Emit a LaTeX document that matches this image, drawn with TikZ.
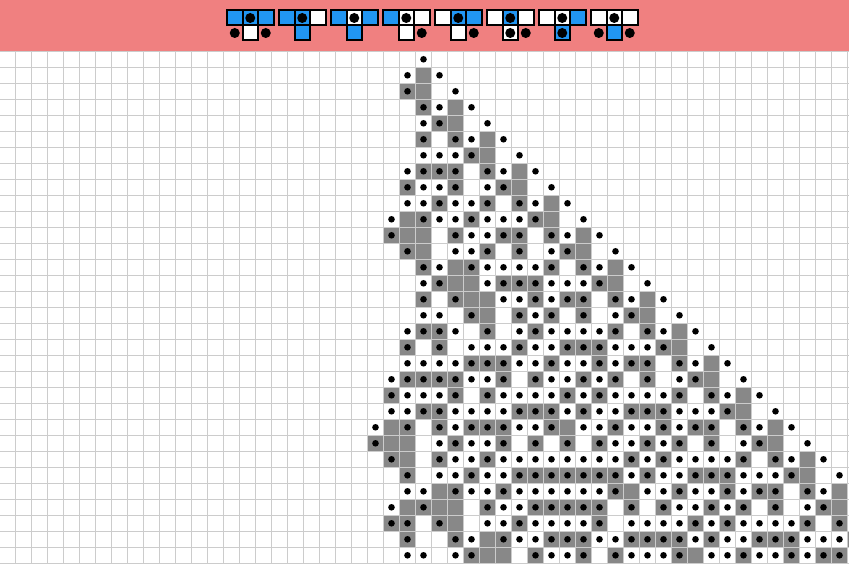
\documentclass[tikz,border=0pt]{standalone}
\usepackage{tikz}
\definecolor{bar}{RGB}{240,128,128}
\definecolor{cellgray}{RGB}{136,136,136}
\definecolor{gridc}{RGB}{204,204,204}
\definecolor{iconblue}{RGB}{33,150,243}

\newcount\rr \newcount\cc \newcount\tmp \newcount\idx
\def\esetv#1#2#3{\expandafter\edef\csname ca#1@\number#2\endcsname{#3}}
\def\getv#1#2{\csname ca#1@\number#2\endcsname}
\cc=-3
\loop
  \esetv{col}{\cc}{0}\esetv{act}{\cc}{0}\esetv{ncol}{\cc}{0}\esetv{nact}{\cc}{0}%
  \advance\cc by 1
\ifnum\cc<66 \repeat
\esetv{act}{25}{1}
\def\cellcmds{}\def\dotcmds{}
\def\newc#1{\esetv{ncol}{\cc}{#1}}
\def\dotL{\tmp=\cc \advance\tmp by -1\relax \esetv{nact}{\tmp}{1}}
\def\dotC{\esetv{nact}{\cc}{1}}
\def\dotR{\tmp=\cc \advance\tmp by 1\relax \esetv{nact}{\tmp}{1}}
\def\applyrule{%
  \ifcase\idx \newc{1}\dotL\dotR
  \or \newc{1}\dotC
  \or \newc{0}\dotC\dotR
  \or \newc{0}\dotR
  \or \newc{0}\dotR
  \or \newc{1}%
  \or \newc{1}%
  \or \newc{0}\dotL\dotR
  \fi}
\def\dorow{%
  \cc=0
  \loop
    \ifnum\getv{col}{\cc}=1 \xdef\cellcmds{\unexpanded\expandafter{\cellcmds}\noexpand\cellat{\the\cc}{\the\rr}}\fi
    \ifnum\getv{act}{\cc}=1 \xdef\dotcmds{\unexpanded\expandafter{\dotcmds}\noexpand\dotat{\the\cc}{\the\rr}}\fi
    \advance\cc by 1
  \ifnum\cc<58 \repeat
  \cc=-1
  \loop
    \esetv{ncol}{\cc}{\getv{col}{\cc}}%
    \ifnum\getv{act}{\cc}=1
      \tmp=\cc \advance\tmp by -1\relax
      \idx=\getv{col}{\tmp}\relax
      \multiply\idx by 2\relax
      \advance\idx by \getv{col}{\cc}\relax
      \multiply\idx by 2\relax
      \tmp=\cc \advance\tmp by 1\relax
      \advance\idx by \getv{col}{\tmp}\relax
      \applyrule
    \fi
    \advance\cc by 1
  \ifnum\cc<64 \repeat
  \cc=-2
  \loop
    \esetv{col}{\cc}{\getv{ncol}{\cc}}%
    \esetv{act}{\cc}{\getv{nact}{\cc}}%
    \esetv{nact}{\cc}{0}%
    \advance\cc by 1
  \ifnum\cc<66 \repeat
  \advance\rr by 1
  \ifnum\rr<32 \expandafter\dorow\fi}
\rr=0
\dorow

\tikzset{
  gridline/.style={draw=gridc, line width=1pt},
  iconcell/.style={draw=black, line width=2pt},
  griddot/.style={fill=black},
}

\begin{document}
\begin{tikzpicture}[x=1pt,y=-1pt]
\def\cellat#1#2{\fill[cellgray] ({15.5+16*#1},{51.3+16*#2}) rectangle ({31.5+16*#1},{67.3+16*#2});}
\def\dotat#1#2{\fill[griddot] ({23.5+16*#1},{59.3+16*#2}) circle[radius=3.3pt];}
\useasboundingbox (0,0) rectangle (849,564);
\fill[white] (0,0) rectangle (849,564);
\begin{scope}
  \clip (0,51.3) rectangle (849,564);
  \cellcmds
  \foreach \k in {0,...,52} \draw[gridline] ({15.5+16*\k},51.3) -- ({15.5+16*\k},564);
  \foreach \k in {0,...,32} \draw[gridline] (0,{51.3+16*\k}) -- (849,{51.3+16*\k});
  \dotcmds
\end{scope}
\fill[bar] (0,0) rectangle (849,51.3);
\foreach \k/\a/\b/\c/\d/\l/\m/\r in {
  0/iconblue/iconblue/iconblue/white/1/0/1,
  1/iconblue/iconblue/white/iconblue/0/0/0,
  2/iconblue/white/iconblue/iconblue/0/0/0,
  3/iconblue/white/white/white/0/0/1,
  4/white/iconblue/iconblue/white/0/0/1,
  5/white/iconblue/white/white/0/1/1,
  6/white/white/iconblue/iconblue/0/1/0,
  7/white/white/white/iconblue/1/0/1}{
  \pgfmathsetmacro\xo{227+52*\k}
  \path[iconcell, fill=\a] (\xo,10.5) rectangle ({\xo+15.5},25.5);
  \path[iconcell, fill=\b] ({\xo+15.5},10.5) rectangle ({\xo+31},25.5);
  \path[iconcell, fill=\c] ({\xo+31},10.5) rectangle ({\xo+46.5},25.5);
  \path[iconcell, fill=\d] ({\xo+15.5},25.5) rectangle ({\xo+31},40.5);
  \fill[black] ({\xo+23.25},18) circle[radius=5pt];
  \ifnum\l=1 \fill[black] ({\xo+7.75},33) circle[radius=5pt];\fi
  \ifnum\m=1 \fill[black] ({\xo+23.25},33) circle[radius=5pt];\fi
  \ifnum\r=1 \fill[black] ({\xo+38.75},33) circle[radius=5pt];\fi
}
\end{tikzpicture}
\end{document}
